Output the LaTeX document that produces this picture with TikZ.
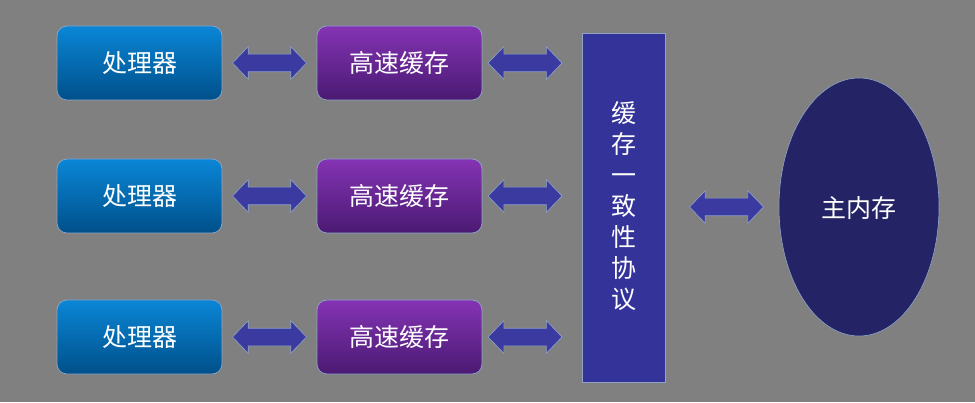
\documentclass[tikz,border=0pt]{standalone}
\usepackage{fontspec}
\setmainfont{Noto Sans CJK SC}
\usetikzlibrary{shapes.arrows,shapes.geometric,calc}
\definecolor{bg}{HTML}{808080}
\definecolor{procTop}{HTML}{0A86D6}
\definecolor{procBot}{HTML}{00508A}
\definecolor{cacheTop}{HTML}{8433B4}
\definecolor{cacheBot}{HTML}{4A1A72}
\definecolor{proto}{HTML}{333399}
\definecolor{mem}{HTML}{232366}
\definecolor{edge}{HTML}{8FA4C8}
\definecolor{arr}{HTML}{3A3AA0}
\tikzset{
  procbox/.style={rectangle, rounded corners=10pt, minimum width=165pt, minimum height=74pt,
    top color=procTop, bottom color=procBot, draw=edge, line width=0.7pt,
    text=white, font=\fontsize{25}{28}\selectfont, inner sep=0pt},
  cachebox/.style={procbox, top color=cacheTop, bottom color=cacheBot},
  darr/.style={double arrow, double arrow head extend=7.5pt, double arrow tip angle=92,
    inner xsep=0pt, inner ysep=8.5pt, minimum height=74pt, text height=0pt, text depth=0pt,
    fill=arr, draw=edge, line width=0.6pt},
}
\begin{document}
\begin{tikzpicture}[x=1pt,y=1pt]
\fill[bg] (0,0) rectangle (975,402);
\useasboundingbox (0,0) rectangle (975,402);

\node[procbox] (p1) at (139.5,339) {处理器};
\node[procbox] (p2) at (139.5,206) {处理器};
\node[procbox] (p3) at (139.5,65) {处理器};

\node[cachebox] (c1) at (399.5,339) {高速缓存};
\node[cachebox] (c2) at (399.5,206) {高速缓存};
\node[cachebox] (c3) at (399.5,65) {高速缓存};

\node[rectangle, minimum width=83pt, minimum height=349pt, fill=proto, draw=edge, line width=0.6pt, inner sep=0pt] (pr) at (623.5,194.5) {};
\node[text=white, font=\fontsize{25}{31}\selectfont, align=center, inner sep=0pt] (prt) at (623.5,196)
  {缓\\存\\一\\致\\性\\协\\议};

\node[ellipse, minimum width=160pt, minimum height=258pt, fill=mem, draw=edge, line width=0.6pt, inner sep=0pt] (m) at (859,195) {};
\node[text=white, font=\fontsize{25}{28}\selectfont, inner sep=0pt] (mt) at (859,194) {主内存};

\foreach \i in {1,2,3}{
  \node[darr] (a\i) at ($(p\i.east)!0.5!(c\i.west)$) {};
  \node[darr] (b\i) at ($(c\i.east)!0.43!(pr.west |- c\i.east)$) {};
}
\node[darr] (am) at ($(pr.east |- m.center)!0.54!(m.west)$) {};
\end{tikzpicture}
\end{document}
